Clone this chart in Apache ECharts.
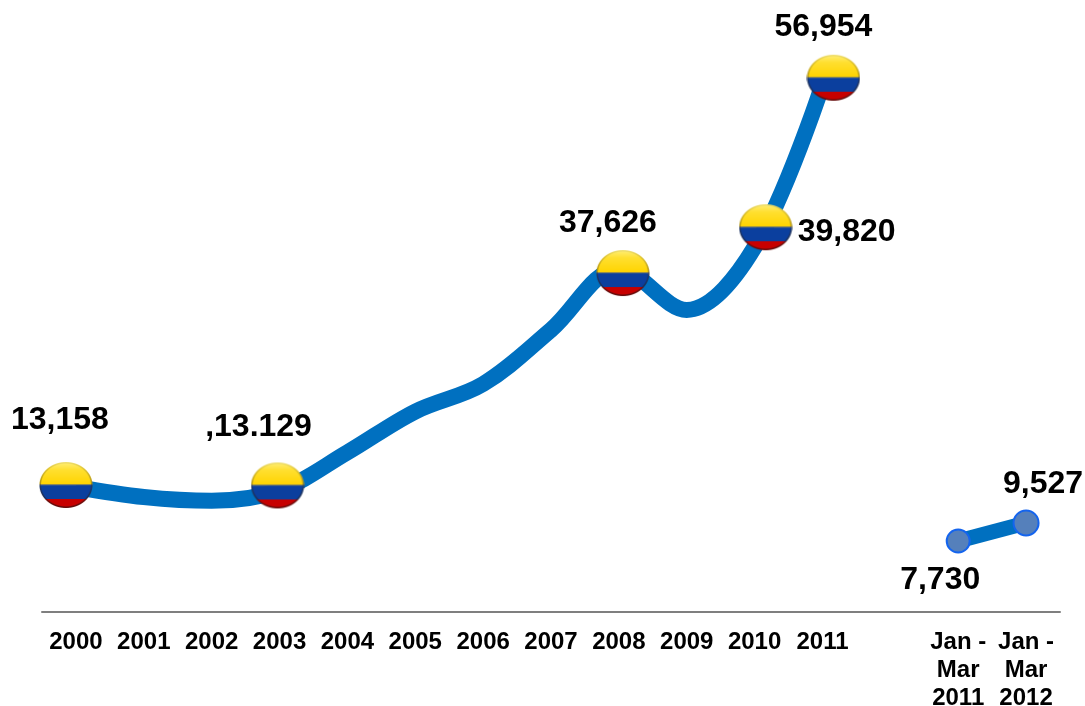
<!DOCTYPE html>
<html><head><meta charset="utf-8">
<style>html,body{margin:0;padding:0;background:#fff}#c{width:1085px;height:706px}</style>
<script src="https://cdn.jsdelivr.net/npm/echarts@6/dist/echarts.min.js"></script>
</head><body><div id="c"></div>
<script>
const categories = ['2000','2001','2002','2003','2004','2005','2006','2007','2008','2009','2010','2011',' ','Jan -\nMar\n2011','Jan -\nMar\n2012'];
const annualYears = ['2000','2001','2002','2003','2004','2005','2006','2007','2008','2009','2010','2011'];
const annualValues = [13158,12100,11700,12800,16800,21100,24000,29700,36100,31800,38400,55500];
const flagYears = ['2000','2003','2008','2010','2011'];
const flagLabels = ['13,158',',13.129','37,626','39,820','56,954'];
const quarterCats = ['Jan -\nMar\n2011','Jan -\nMar\n2012'];
const quarterValues = [7470,9370];
const quarterLabels = ['7,730','9,527'];

function makeFlag(){
  const s=4,w=54,h=48,c=document.createElement('canvas');
  c.width=w*s;c.height=h*s;const g=c.getContext('2d');g.scale(s,s);
  const cx=w/2,cy=h/2,rx=26.5,ry=23;
  g.save();g.beginPath();g.ellipse(cx,cy,rx,ry,0,0,Math.PI*2);g.clip();
  const mid=cy-0.5, redTop=cy+14;
  let y=g.createLinearGradient(0,cy-ry,0,mid);
  y.addColorStop(0,'#fff07a');y.addColorStop(.35,'#ffe030');y.addColorStop(1,'#ffd400');
  g.fillStyle=y;g.fillRect(0,0,w,mid);
  g.fillStyle='#8d8a55';g.fillRect(0,mid-0.5,w,1.2);
  g.fillStyle='#0b3f9e';g.fillRect(0,mid+0.7,w,redTop-mid);
  g.fillStyle='#c70000';g.fillRect(0,redTop,w,h);
  const edge=g.createLinearGradient(0,cy-ry,0,cy+ry);
  edge.addColorStop(0,'rgba(150,130,60,.15)');edge.addColorStop(.5,'rgba(60,50,40,.45)');edge.addColorStop(1,'rgba(30,20,20,.6)');
  g.beginPath();g.ellipse(cx,cy,rx,ry,0,0,Math.PI*2);
  g.strokeStyle=edge;g.lineWidth=3;g.stroke();
  g.restore();
  return 'image://'+c.toDataURL();
}
const flag=makeFlag();
const flagOffsets=[[-10,-2],[-2,-5],[4,4],[11,-20],[11,-7]];
const flagLabelOffsets=[[-6,-65],[-19,-58],[-15,-50],[81,5],[-10,-51]];
const quarterLabelOffsets=[[-18,39],[17,-39]];
const labelFont={fontFamily:'"Liberation Sans",Arial,sans-serif',fontWeight:'bold',fontSize:32,color:'#000',opacity:1};

const chart=echarts.init(document.getElementById('c'),null,{renderer:'canvas'});
chart.setOption({
  animation:false,
  grid:{left:42,right:25,top:42,bottom:94,outerBoundsMode:'none'},
  xAxis:{type:'category',data:categories,boundaryGap:true,
    axisTick:{show:false},
    axisLine:{show:true,lineStyle:{color:'#7f7f7f',width:2}},
    axisLabel:{interval:0,margin:16,lineHeight:28,fontFamily:'"Liberation Sans",Arial,sans-serif',fontWeight:'bold',fontSize:24,color:'#000'}},
  yAxis:{type:'value',min:0,max:60000,show:false,splitLine:{show:false}},
  series:[
    {type:'line',smooth:0.35,symbol:'none',z:2,
     lineStyle:{color:'#0070c0',width:16},
     data:annualYears.map((c,i)=>[c,annualValues[i]])},
    {type:'scatter',z:4,symbol:flag,symbolSize:[54,48],itemStyle:{opacity:1},
     data:flagYears.map((c,i)=>({value:[c,annualValues[annualYears.indexOf(c)]],symbolOffset:flagOffsets[i],
       label:{show:true,position:'inside',offset:flagLabelOffsets[i],formatter:flagLabels[i],...labelFont}}))},
    {type:'line',z:3,symbol:'circle',
     lineStyle:{color:'#0070c0',width:15},
     itemStyle:{color:'#5580bb',borderColor:'#1464ee',borderWidth:2},
     data:quarterCats.map((c,i)=>({value:[c,quarterValues[i]],symbolSize:i?25:23,
       label:{show:true,position:'inside',offset:quarterLabelOffsets[i],formatter:quarterLabels[i],...labelFont}}))}
  ]
});
</script></body></html>
